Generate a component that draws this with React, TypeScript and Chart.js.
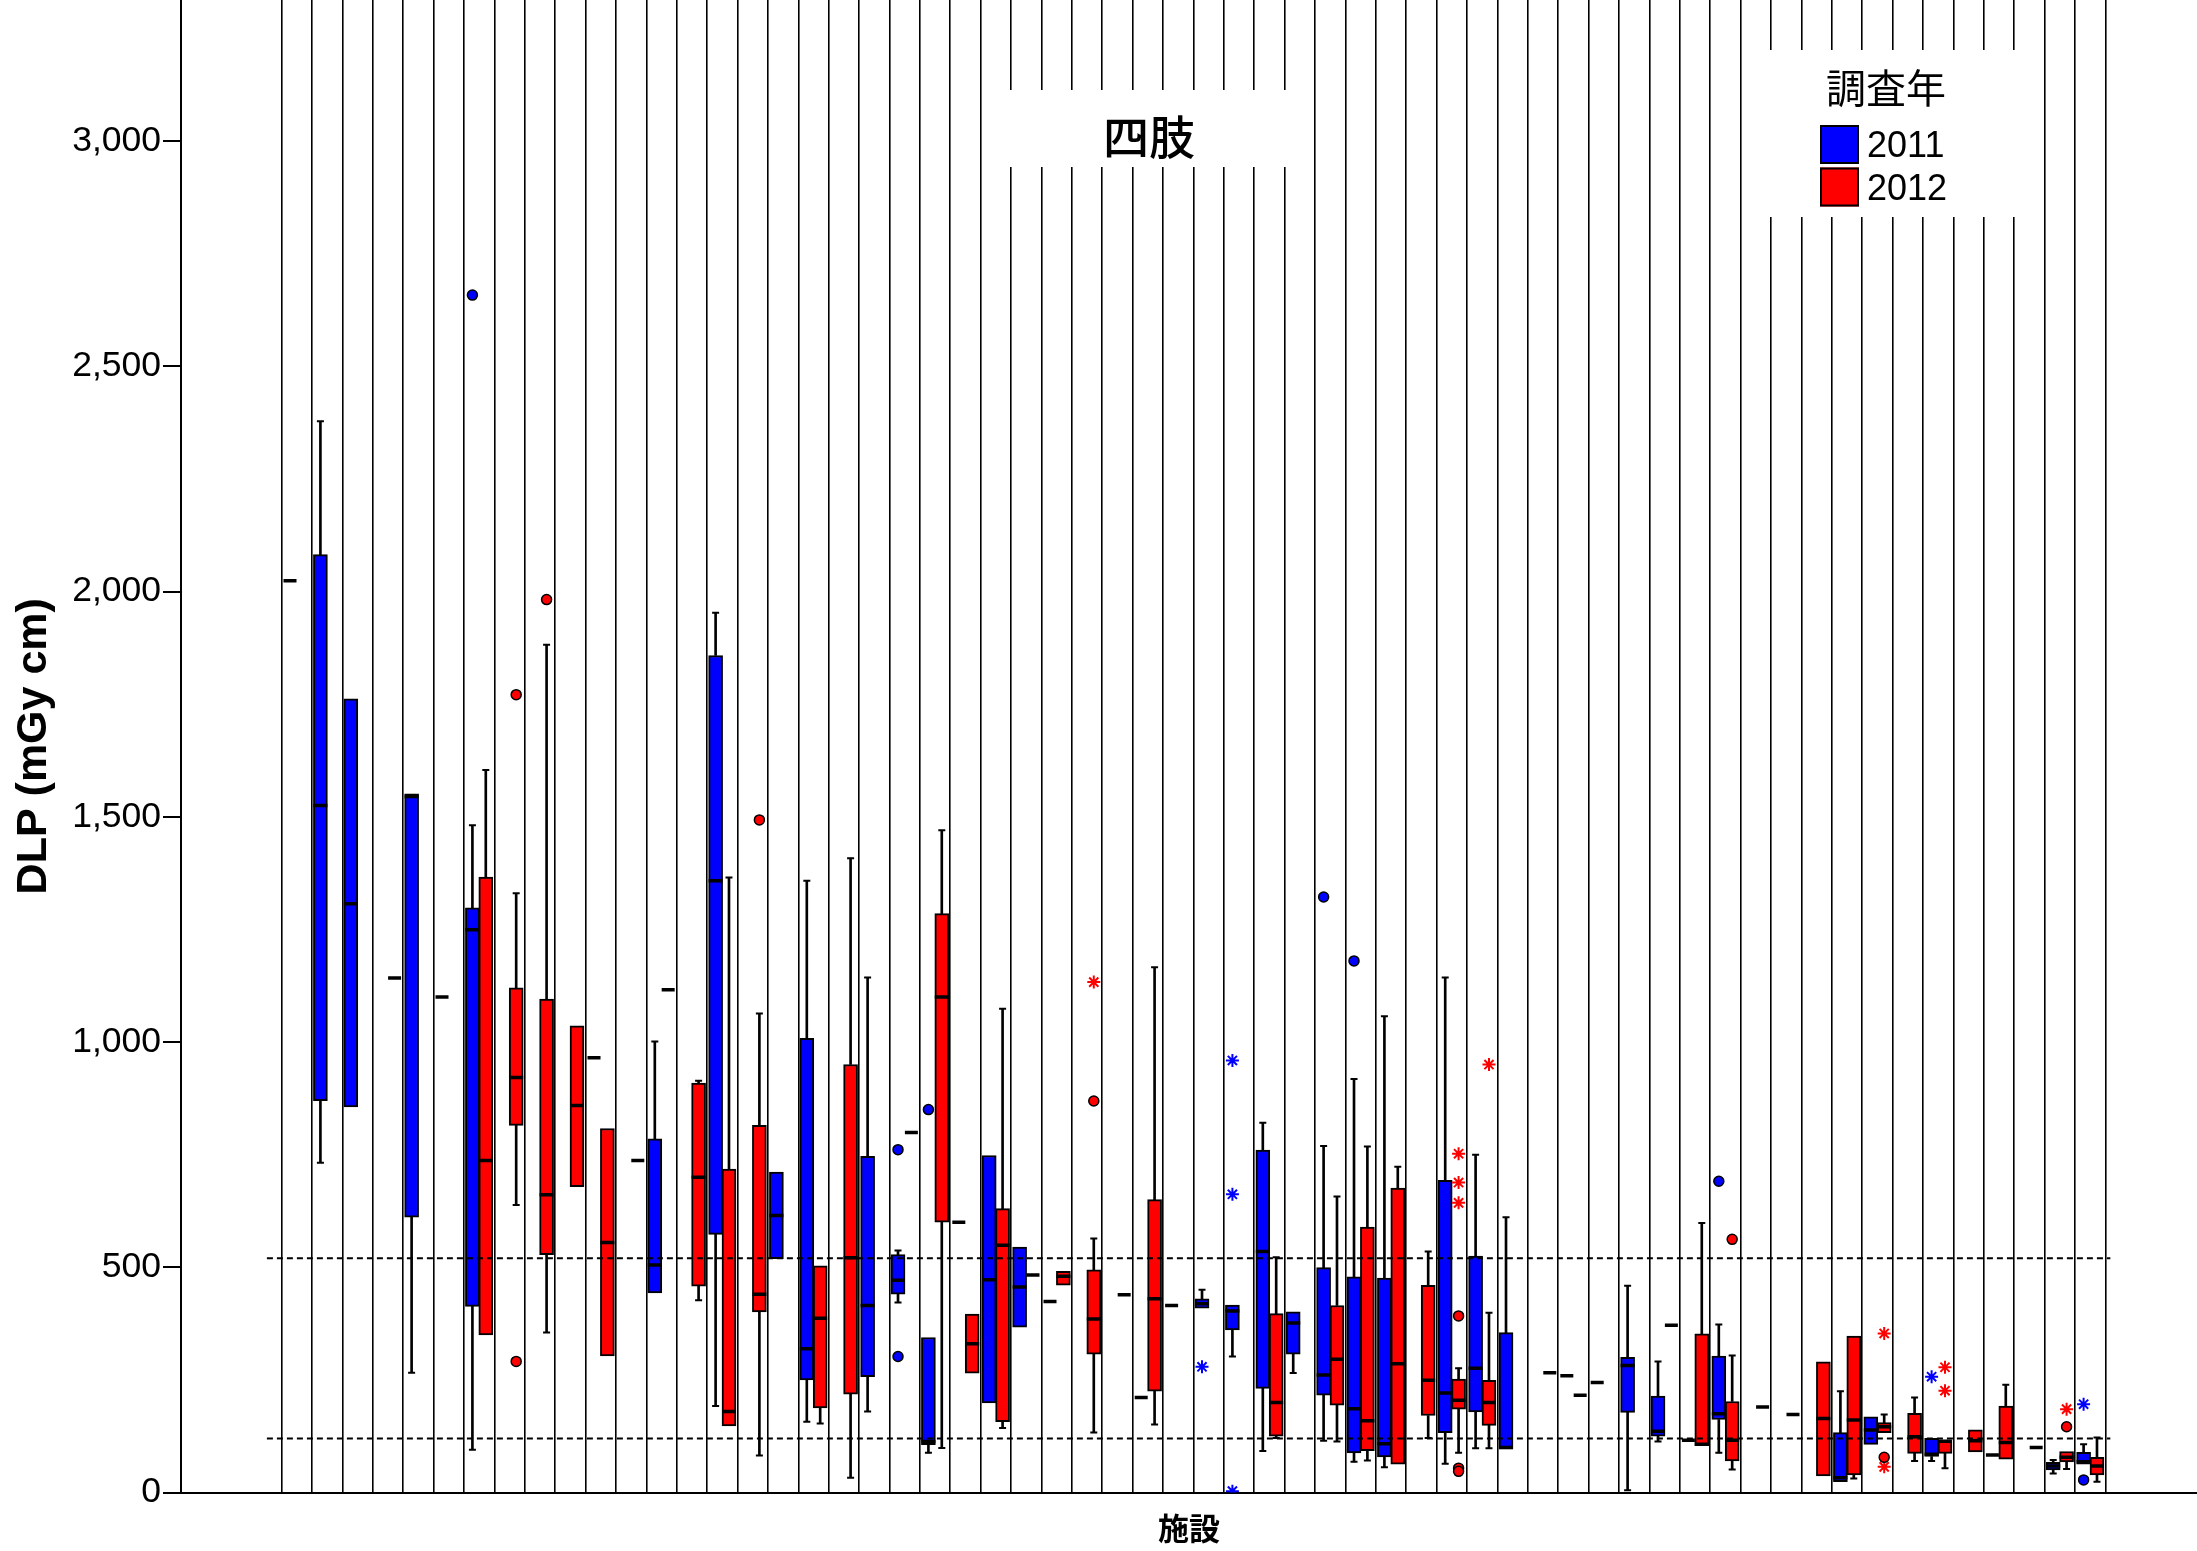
import React, { useEffect, useRef } from 'react';
import { Chart, registerables } from 'chart.js';

Chart.register(...registerables);

// ---- categories / labels ----
const facilities = Array.from({ length: 60 }, (_, i) => i + 1); // 60 施設 (unlabelled)
const years = ['2011', '2012'];
const yearColors = ['#0000ff', '#ff0000'];
const yTicks = [0, 500, 1000, 1500, 2000, 2500, 3000];
const referenceLevels = [520, 120];
const chartTitle = '四肢';
const legendTitle = '調査年';
const xTitle = '施設';
const yTitle = 'DLP (mGy cm)';

// ---- box data: [facility index, lower whisker, Q1, median, Q3, upper whisker] ----
const boxes2011: (number | null)[][] = [
  [1, 732, 870, 1525, 2082, 2378],
  [2, null, 856, 1307, 1762, null],
  [4, 266, 611, 1545, 1551, null],
  [6, 95, 413, 1249, 1298, 1481],
  [12, null, 443, 505, 785, 1001],
  [14, 192, 573, 1358, 1858, 1953],
  [16, null, 519, 615, 711, null],
  [17, 157, 250, 319, 1008, 1358],
  [19, 180, 257, 415, 746, 1143],
  [20, 422, 440, 471, 528, 537],
  [21, 88, 106, 113, 344, null],
  [23, null, 199, 472, 748, null],
  [24, null, 367, 456, 545, null],
  [30, null, 409, 419, 430, 450],
  [31, 302, 361, 403, 416, null],
  [32, 92, 231, 535, 760, 821],
  [33, 265, 307, 376, 401, null],
  [34, 115, 216, 261, 499, 769],
  [35, 68, 88, 186, 479, 918],
  [36, 56, 79, 108, 476, 1057],
  [38, 64, 133, 221, 693, 1143],
  [39, 98, 179, 276, 525, 750],
  [40, null, 97, 100, 355, 611],
  [44, 5, 178, 282, 300, 459],
  [45, 113, 125, 136, 214, 291],
  [47, 88, 162, 175, 303, 373],
  [51, null, 24, 33, 133, 225],
  [52, null, 107, 139, 168, null],
  [54, 70, 80, 85, 120, null],
  [58, 42, 50, 59, 67, 72],
  [59, null, 63, 68, 89, 107],
];

const boxes2012: (number | null)[][] = [
  [6, null, 350, 737, 1366, 1604],
  [7, 638, 815, 921, 1120, 1330],
  [8, 355, 528, 661, 1095, 1882],
  [9, null, 679, 859, 1036, null],
  [10, null, 303, 555, 808, null],
  [13, 427, 458, 700, 909, 914],
  [14, null, 148, 180, 718, 1365],
  [15, 82, 401, 440, 815, 1063],
  [17, 153, 188, 387, 503, null],
  [18, 33, 218, 521, 950, 1408],
  [21, 99, 600, 1100, 1285, 1470],
  [22, null, 265, 330, 396, null],
  [23, 143, 157, 549, 630, 1074],
  [25, null, 460, 480, 491, null],
  [26, 133, 307, 385, 494, 564],
  [28, 151, 225, 430, 650, 1166],
  [32, 121, 125, 200, 397, 522],
  [34, 113, 194, 296, 415, 657],
  [35, 71, 93, 159, 589, 768],
  [36, null, 63, 286, 676, 723],
  [37, 121, 171, 249, 460, 535],
  [38, 88, 185, 205, 252, 276],
  [39, 98, 149, 200, 249, 399],
  [46, null, 104, 107, 352, 598],
  [47, 51, 70, 116, 202, 304],
  [50, null, 37, 164, 290, null],
  [51, 31, 39, 161, 347, null],
  [52, null, 133, 146, 155, 173],
  [53, 70, 87, 124, 176, 211],
  [54, 54, 87, 114, 116, null],
  [55, null, 90, 115, 139, null],
  [56, null, 74, 111, 192, 239],
  [58, 52, 68, 78, 91, null],
  [59, 24, 39, 59, 78, 122],
];

// facilities with a single value: [facility index, value]
const singles2011 = [[0, 2024], [5, 1100], [10, 965], [22, 600], [25, 424], [28, 211], [29, 415], [42, 259], [43, 244], [46, 116], [56, 83]];
const singles2012 = [[3, 1142], [11, 737], [12, 1116], [20, 799], [24, 483], [27, 439], [41, 266], [42, 216], [45, 371], [48, 190], [49, 173], [57, 100]];

// outliers (circles) and extreme values (stars): [facility index, value]
const circles2011 = [[6, 2658], [20, 761], [20, 302], [21, 850], [34, 1322], [35, 1180], [47, 691], [59, 28]];
const stars2011 = [[30, 279], [31, 959], [31, 662], [31, 3], [54, 257], [59, 196]];
const circles2012 = [[7, 1771], [7, 291], [8, 1982], [15, 1493], [26, 869], [38, 392], [38, 54], [38, 47], [47, 562], [52, 78], [58, 146]];
const stars2012 = [[26, 1133], [38, 752], [38, 688], [38, 643], [39, 950], [52, 353], [52, 57], [54, 278], [54, 226], [58, 185]];

const SIDE = [-0.22, 0.22];

function yearDatasets(k: number, boxes: (number | null)[][], singles: number[][], circles: number[][], stars: number[][]) {
  const off = SIDE[k];
  const color = yearColors[k];
  const whiskers: any[] = [];
  const caps: any[] = [];
  boxes.forEach(([i, lo, q1, , q3, hi]) => {
    const x = (i as number) + off;
    if (lo != null) { whiskers.push({ x, y: [lo, q1] }); caps.push({ x, y: lo }); }
    if (hi != null) { whiskers.push({ x, y: [q3, hi] }); caps.push({ x, y: hi }); }
  });
  return [
    {
      type: 'bar', label: years[k] + ' whiskers', data: whiskers,
      backgroundColor: '#000', borderWidth: 0, barThickness: 2, grouped: false, order: 6,
    },
    {
      type: 'scatter', label: years[k] + ' caps', data: caps,
      pointStyle: 'line', pointRadius: 3.5, pointBorderColor: '#000', pointBorderWidth: 2, order: 6,
    },
    {
      type: 'bar', label: years[k],
      data: boxes.map(([i, , q1, , q3]) => ({ x: (i as number) + off, y: [q1, q3] })),
      backgroundColor: color, borderColor: '#000', borderWidth: 2, borderSkipped: false,
      barThickness: 14, grouped: false, order: 4,
    },
    {
      type: 'scatter', label: years[k] + ' median',
      data: boxes.map(([i, , , med]) => ({ x: (i as number) + off, y: med })),
      pointStyle: 'line', pointRadius: 7, pointBorderColor: '#000', pointBorderWidth: 3.5, order: 3,
    },
    {
      type: 'scatter', label: years[k] + ' single',
      data: singles.map(([i, v]) => ({ x: i + off, y: v })),
      pointStyle: 'line', pointRadius: 6.5, pointBorderColor: '#000', pointBorderWidth: 3.5, order: 3,
    },
    {
      type: 'scatter', label: years[k] + ' outliers',
      data: circles.map(([i, v]) => ({ x: i + off, y: v })),
      pointStyle: 'circle', pointRadius: 5, pointBackgroundColor: color,
      pointBorderColor: '#000', pointBorderWidth: 1.5, order: 2,
    },
    {
      type: 'scatter', label: years[k] + ' extremes',
      data: stars.map(([i, v]) => ({ x: i + off, y: v })),
      pointStyle: 'star', pointRadius: 6.5, pointBorderColor: color, pointBorderWidth: 2, order: 2,
    },
  ];
}

const overlayPlugin = {
  id: 'overlay',
  beforeDatasetsDraw(chart: any) {
    const ctx = chart.ctx;
    ctx.save();
    ctx.fillStyle = '#fff';
    ctx.fillRect(985, 90, 326, 77);
    ctx.fillRect(1746, 50, 294, 167);
    ctx.fillStyle = '#000';
    ctx.textAlign = 'center';
    ctx.textBaseline = 'middle';
    ctx.font = '500 46px "Noto Sans CJK JP"';
    ctx.fillText(chartTitle, 1149, 137);
    ctx.font = '40px "Noto Sans CJK JP"';
    ctx.fillText(legendTitle, 1886, 88);
    years.forEach((y, k) => {
      const top = 125 + k * 42.5;
      ctx.fillStyle = yearColors[k];
      ctx.fillRect(1820, top, 39, 39);
      ctx.strokeStyle = '#000';
      ctx.lineWidth = 2;
      ctx.strokeRect(1821, top + 1, 37, 37);
      ctx.fillStyle = '#000';
      ctx.font = '36px "Liberation Sans", Arial, sans-serif';
      ctx.textAlign = 'left';
      ctx.textBaseline = 'alphabetic';
      ctx.fillText(y, 1867, 157 + k * 43);
    });
    ctx.restore();
  },
};

export default function App() {
  const ref = useRef<HTMLCanvasElement>(null);
  useEffect(() => {
    document.body.style.margin = '0';
    document.body.style.overflow = 'hidden';
    const datasets: any[] = [
      ...referenceLevels.map((v) => ({
        type: 'line', label: 'ref ' + v,
        data: [{ x: -0.98, y: v }, { x: 59.66, y: v }],
        borderColor: '#000', borderWidth: 2, borderDash: [6, 4], pointRadius: 0, fill: false, order: 1,
      })),
      ...yearDatasets(0, boxes2011, singles2011, circles2011, stars2011),
      ...yearDatasets(1, boxes2012, singles2012, circles2012, stars2012),
    ];
    const chart = new Chart(ref.current as HTMLCanvasElement, {
      type: 'bar',
      data: { datasets },
      options: {
        animation: false,
        responsive: false,
        devicePixelRatio: 1,
        events: [],
        layout: { padding: 0, autoPadding: false },
        plugins: { legend: { display: false }, tooltip: { enabled: false }, title: { display: false } },
        scales: {
          x: {
            type: 'linear',
            min: -3.806,
            max: 62.51,
            offset: false,
            afterBuildTicks: (s: any) => {
              s.ticks = facilities.map((_, i) => ({ value: i - 0.5 })).concat([{ value: facilities.length - 0.5 }]);
            },
            ticks: { display: false },
            grid: { offset: false, color: '#000', lineWidth: 1.6, drawTicks: false },
            border: { display: true, color: '#000', width: 2 },
            title: {
              display: true, text: xTitle, color: '#000',
              font: { family: '"Noto Sans CJK JP", sans-serif', size: 31, weight: 'bold' },
              padding: { top: 0, bottom: 4 },
            },
            afterFit: (s: any) => { s.height = 58.5; s.paddingLeft = 0; s.paddingRight = 0; },
          },
          y: {
            type: 'linear',
            min: 0,
            max: 3313,
            afterBuildTicks: (s: any) => { s.ticks = yTicks.map((v) => ({ value: v })); },
            ticks: {
              color: '#000', padding: 2,
              font: { family: '"Liberation Sans", Arial, sans-serif', size: 35.5 },
              callback: (v: any) => Number(v).toLocaleString('en-US'),
            },
            grid: { drawOnChartArea: false, color: '#000', lineWidth: 2, tickLength: 18 },
            border: { display: true, color: '#000', width: 2 },
            title: {
              display: true, text: yTitle, color: '#000',
              font: { family: '"Liberation Sans", Arial, sans-serif', size: 43, weight: 'bold' },
              padding: { top: 8, bottom: 0 },
            },
            afterFit: (s: any) => { s.width = 181; s.paddingTop = 0; s.paddingBottom = 0; },
          },
        },
      } as any,
      plugins: [overlayPlugin],
    } as any);
    return () => chart.destroy();
  }, []);
  return (
    <div style={{ width: 2197, height: 1551 }}>
      <canvas ref={ref} width={2197} height={1551} style={{ display: 'block' }} />
    </div>
  );
}
